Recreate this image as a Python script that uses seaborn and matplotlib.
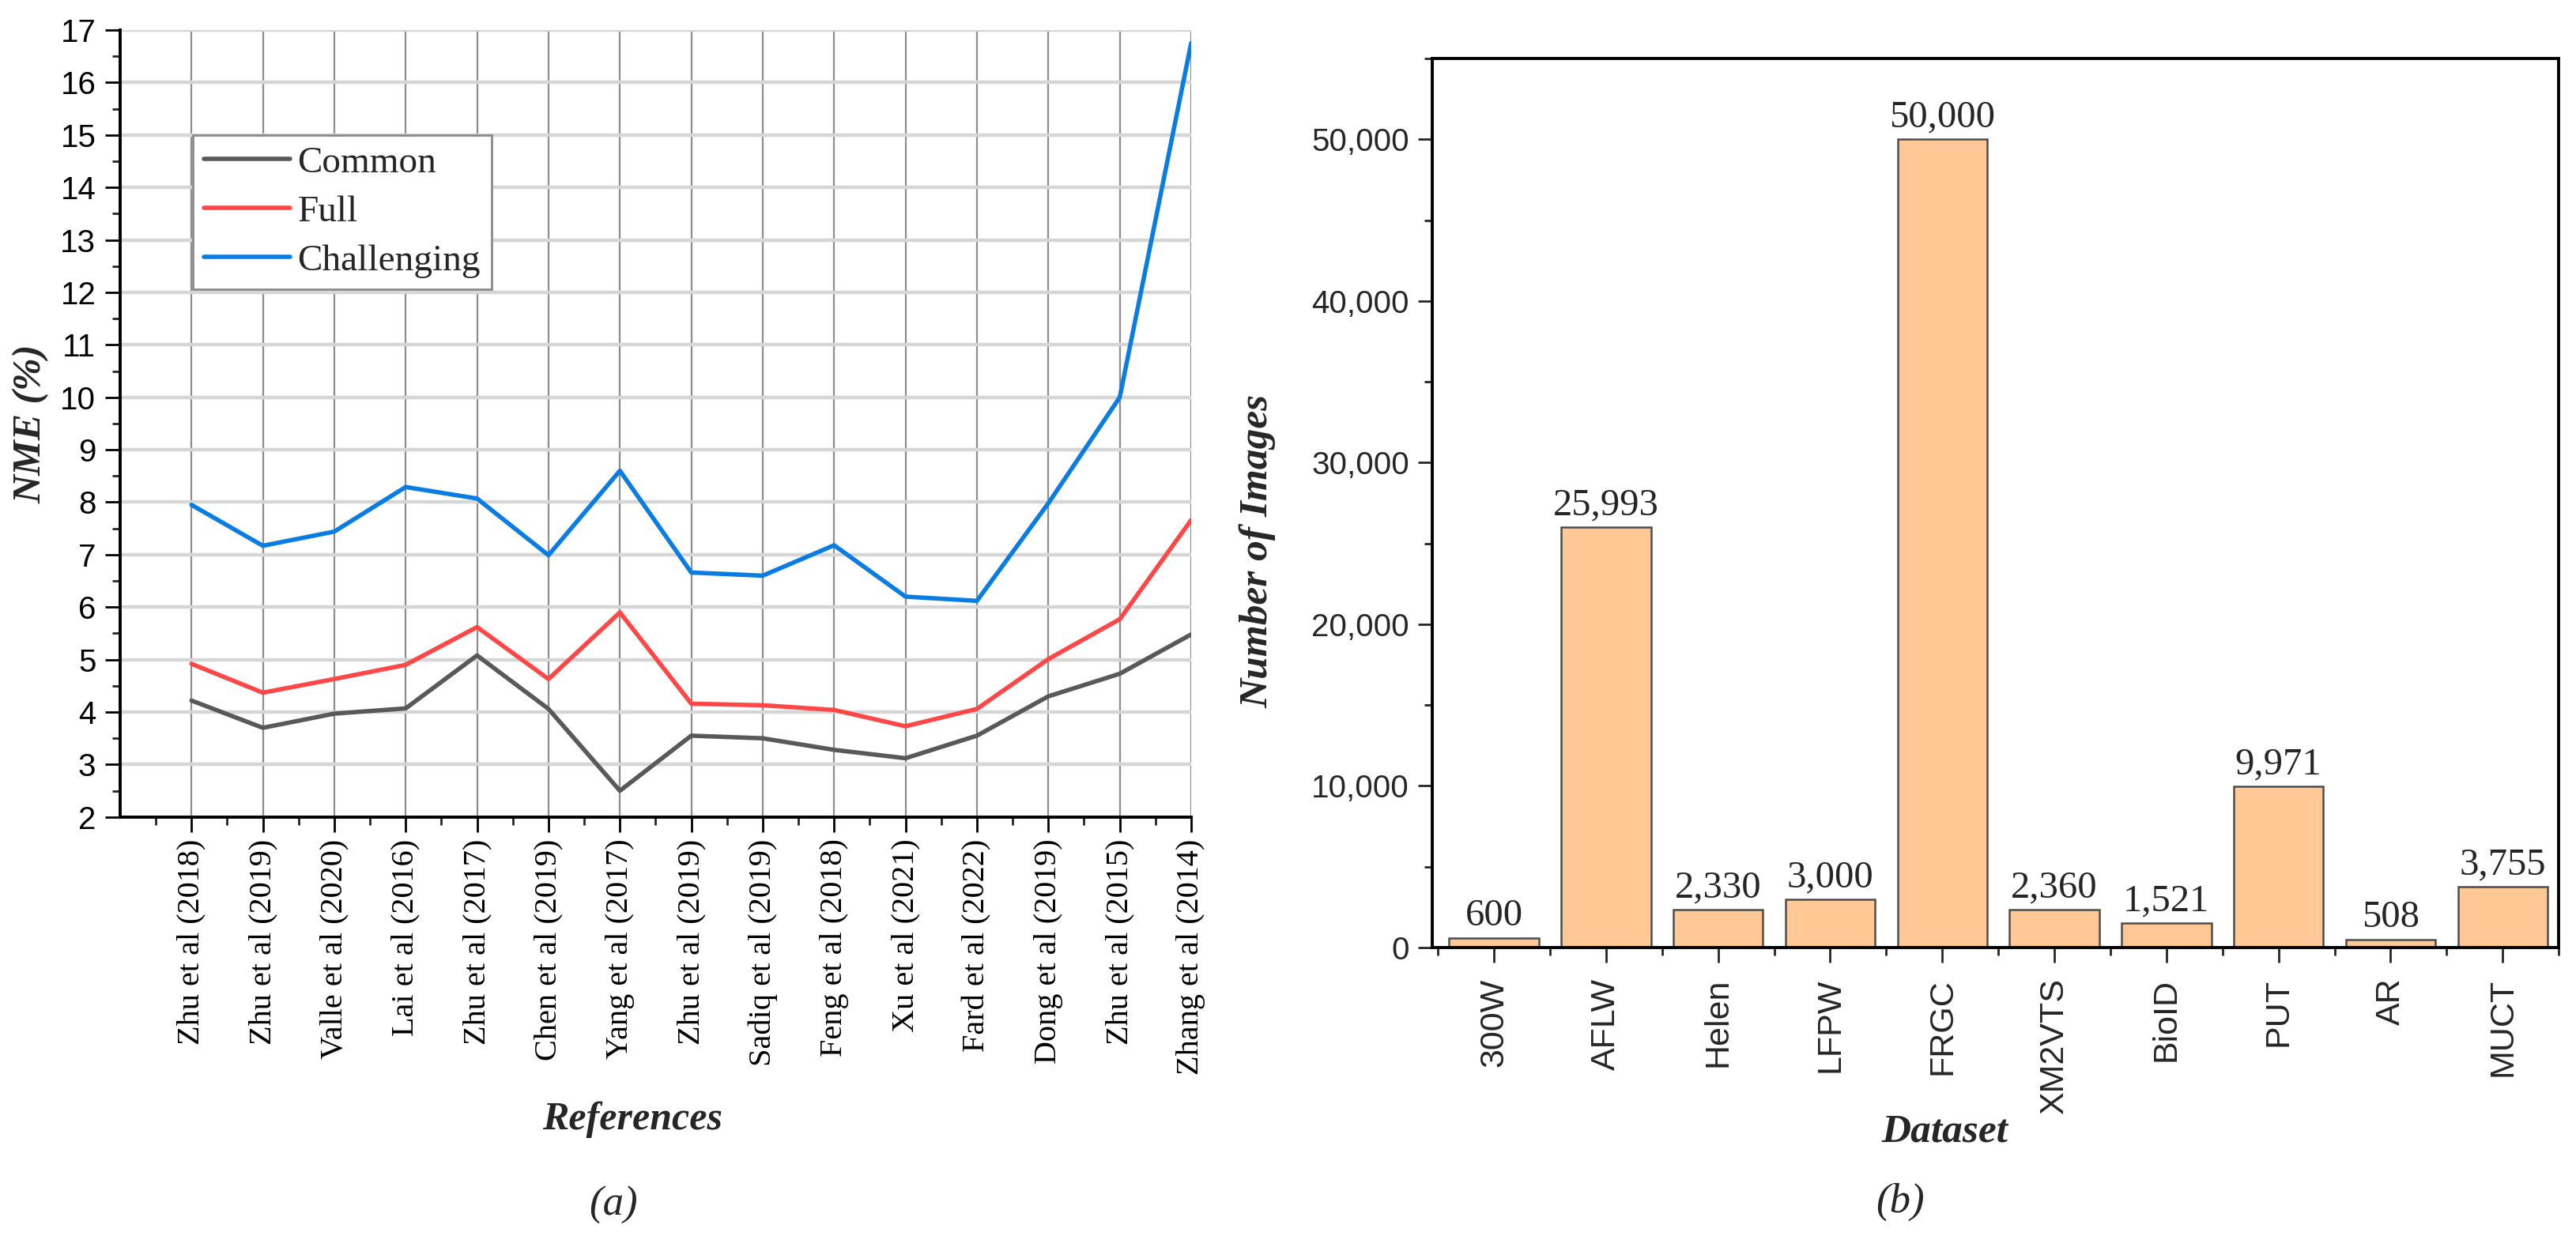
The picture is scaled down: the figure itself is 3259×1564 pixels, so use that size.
import numpy as np
import pandas as pd
import matplotlib
matplotlib.use("Agg")
import matplotlib.pyplot as plt
from matplotlib.ticker import MultipleLocator, FixedLocator, StrMethodFormatter
from matplotlib.lines import Line2D
import seaborn as sns

# ---- data (a): NME per reference ----
references = ["Zhu et al (2018)", "Zhu et al (2019)", "Valle et al (2020)", "Lai et al (2016)",
              "Zhu et al (2017)", "Chen et al (2019)", "Yang et al (2017)", "Zhu et al (2019)",
              "Sadiq et al (2019)", "Feng et al (2018)", "Xu et al (2021)", "Fard et al (2022)",
              "Dong et al (2019)", "Zhu et al (2015)", "Zhang et al (2014)"]
common = [4.22, 3.70, 3.97, 4.07, 5.08, 4.06, 2.50, 3.55, 3.50, 3.28, 3.12, 3.55, 4.30, 4.73, 5.48]
full = [4.92, 4.37, 4.63, 4.90, 5.62, 4.63, 5.90, 4.16, 4.13, 4.04, 3.73, 4.06, 5.01, 5.77, 7.66]
challenging = [7.95, 7.17, 7.44, 8.29, 8.07, 6.99, 8.60, 6.66, 6.60, 7.18, 6.20, 6.12, 7.98, 10.0, 16.75]

# ---- data (b): dataset sizes ----
datasets = ["300W", "AFLW", "Helen", "LFPW", "FRGC", "XM2VTS", "BioID", "PUT", "AR", "MUCT"]
n_images = [600, 25993, 2330, 3000, 50000, 2360, 1521, 9971, 508, 3755]

sns.set_theme(style="ticks")
plt.rcParams["font.family"] = ["Liberation Serif", "DejaVu Serif"]
SANS = ["Liberation Sans Narrow", "Liberation Sans", "DejaVu Sans"]
SERIF = ["Liberation Serif", "DejaVu Serif"]

colors = {"Common": "#595959", "Full": "#FF4747", "Challenging": "#0A7DE3"}
LW = 2.0

fig = plt.figure(figsize=(16.295, 7.82), dpi=200)
ax1 = fig.add_axes([0.0466, 0.339, 0.4158, 0.6367])
ax2 = fig.add_axes([0.556, 0.2334, 0.4373, 0.7193])

# ---------------- (a) line chart ----------------
idx = np.arange(len(references))
df = pd.DataFrame({
    "idx": np.concatenate([idx, idx, idx]),
    "nme": common + full + challenging,
    "subset": ["Common"] * len(idx) + ["Full"] * len(idx) + ["Challenging"] * len(idx),
})
sns.lineplot(data=df, x="idx", y="nme", hue="subset", palette=colors,
             linewidth=LW, ax=ax1, legend=False)

ax1.set_xlim(-1, 14)
ax1.set_ylim(2, 17)
ax1.xaxis.set_major_locator(FixedLocator(idx))
ax1.xaxis.set_minor_locator(FixedLocator(np.arange(-0.5, 14, 1.0)))
ax1.set_xticklabels(references, rotation=90, family=SERIF, fontsize=14.5)
ax1.yaxis.set_major_locator(MultipleLocator(1))
ax1.yaxis.set_minor_locator(MultipleLocator(0.5))
for lab in ax1.get_yticklabels():
    lab.set_family(SANS)
    lab.set_fontsize(14.5)
ax1.tick_params(axis="both", which="major", direction="out", length=7, width=1.0, pad=4, colors="black")
ax1.tick_params(axis="both", which="minor", direction="out", length=3.5, width=1.0)
ax1.tick_params(axis="x", which="major", pad=3)

ax1.grid(axis="y", which="major", color="#d6d6d6", linewidth=1.6)
ax1.grid(axis="x", which="major", color="#8c8c8c", linewidth=0.8)
ax1.set_axisbelow(True)
for s in ["top", "right"]:
    ax1.spines[s].set_visible(False)
for s in ["left", "bottom"]:
    ax1.spines[s].set_linewidth(1.4)
    ax1.spines[s].set_color("black")

ax1.set_xlabel("References", fontsize=18, fontweight="bold", style="italic", family=SERIF)
ax1.set_ylabel("NME (%)", fontsize=18, fontweight="bold", style="italic", family=SERIF)
ax1.xaxis.set_label_coords(0.478, -0.385)
ax1.xaxis.label.set_va("center")
ax1.yaxis.set_label_coords(-0.083, 0.5)
ax1.yaxis.label.set_va("center")

handles = [Line2D([], [], color=colors[k], linewidth=LW) for k in ["Common", "Full", "Challenging"]]
leg = ax1.legend(handles, ["Common", "Full", "Challenging"], loc="upper left",
                 bbox_to_anchor=(0.068, 0.8667), borderaxespad=0, frameon=True,
                 fancybox=False, edgecolor="#8a8a8a", framealpha=1,
                 prop={"family": SERIF, "size": 17}, handlelength=2.3,
                 handletextpad=0.2, labelspacing=0.4, borderpad=0.3)
leg.get_frame().set_linewidth(1.0)

# ---------------- (b) bar chart ----------------
sns.barplot(x=datasets, y=n_images, color="#FFC894", edgecolor="#4d4d4d",
            linewidth=0.9, width=0.8, saturation=1, ax=ax2)
ax2.bar_label(ax2.containers[0], labels=[f"{v:,}" for v in n_images],
              padding=2, fontsize=17.5, family=SERIF)

ax2.set_xlim(-0.55, 9.5)
ax2.set_ylim(0, 55000)
ax2.yaxis.set_major_locator(MultipleLocator(10000))
ax2.yaxis.set_minor_locator(MultipleLocator(5000))
ax2.yaxis.set_major_formatter(StrMethodFormatter("{x:,.0f}"))
ax2.xaxis.set_minor_locator(FixedLocator(np.arange(-0.5, 10, 1.0)))
ax2.tick_params(axis="x", which="major", rotation=90, labelsize=15.5, length=7, width=1.0, pad=7)
ax2.tick_params(axis="x", which="minor", length=3.5, width=1.0)
ax2.tick_params(axis="y", which="major", labelsize=14.5, length=6.5, width=1.0, pad=4)
ax2.tick_params(axis="y", which="minor", length=3.5, width=1.0)
for lab in ax2.get_xticklabels() + ax2.get_yticklabels():
    lab.set_family(SANS)
for s in ax2.spines.values():
    s.set_linewidth(1.4)
    s.set_color("black")

ax2.set_xlabel("Dataset", fontsize=18.5, fontweight="bold", style="italic", family=SERIF)
ax2.set_ylabel("Number of Images", fontsize=18.5, fontweight="bold", style="italic", family=SERIF)
ax2.xaxis.set_label_coords(0.455, -0.208)
ax2.xaxis.label.set_va("center")
ax2.yaxis.set_label_coords(-0.155, 0.446)
ax2.yaxis.label.set_va("center")

fig.text(0.238, 0.025, "(a)", fontsize=19, style="italic", family=SERIF, ha="center", va="center")
fig.text(0.7377, 0.0275, "(b)", fontsize=19, style="italic", family=SERIF, ha="center", va="center")

fig.savefig("out.png", dpi=200, facecolor="white")
